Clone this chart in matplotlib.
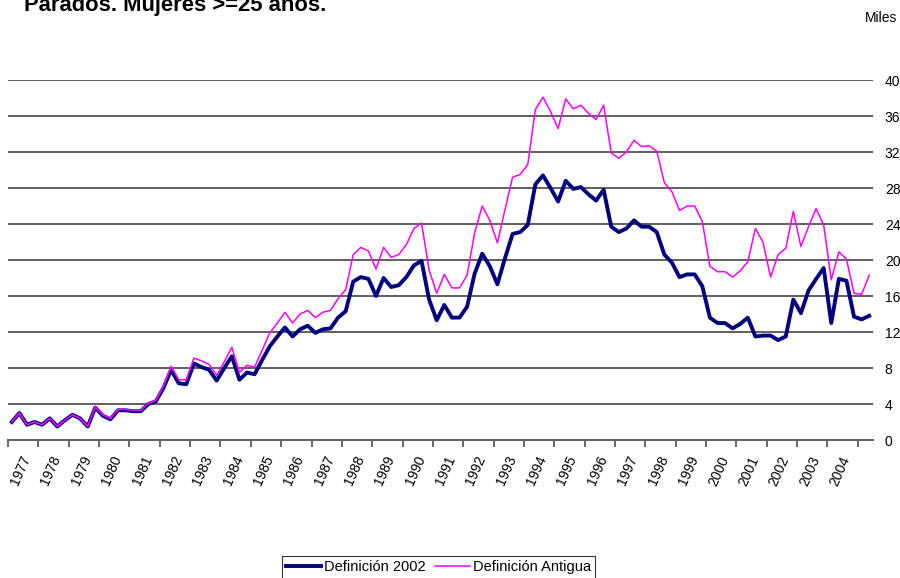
import numpy as np
import matplotlib
matplotlib.use('Agg')
import matplotlib.pyplot as plt

# quarterly series, 1977Q1 .. 2005Q2 (miles)
def2002 = [2.0, 3.0, 1.7, 2.0, 1.7, 2.4, 1.5, 2.2, 2.8, 2.4, 1.5, 3.6, 2.7, 2.3, 3.3, 3.3, 3.2, 3.2, 4.0, 4.3,
           5.8, 7.8, 6.3, 6.2, 8.5, 8.1, 7.8, 6.6,
           8.0, 9.3, 6.7, 7.5, 7.3, 8.9, 10.4, 11.5, 12.5, 11.5, 12.3, 12.7, 11.9, 12.3, 12.4, 13.6, 14.3,
           17.6, 18.1, 17.9, 16.0, 18.0, 17.0, 17.2, 18.1, 19.4, 19.9, 15.6, 13.3,
           15.0, 13.6, 13.6, 14.8, 18.5, 20.7, 19.3, 17.3, 20.2, 22.9, 23.1, 23.9, 28.4, 29.4, 28.0, 26.5,
           28.8, 27.9, 28.1, 27.3, 26.6, 27.8, 23.7, 23.1, 23.5, 24.4, 23.7, 23.7, 23.1,
           20.6, 19.7, 18.1, 18.4, 18.4, 17.1, 13.6, 13.0, 13.0, 12.4, 12.9, 13.6, 11.5, 11.6, 11.6, 11.1,
           11.5, 15.6, 14.1, 16.6, 17.9, 19.1, 13.0, 17.9, 17.7, 13.7, 13.4, 13.8]
antigua = [2.0, 3.0, 1.7, 2.0, 1.7, 2.4, 1.5, 2.2, 2.8, 2.4, 1.5, 3.7, 2.8, 2.4, 3.4, 3.4, 3.3, 3.3, 4.1, 4.4,
           6.0, 8.2, 6.7, 6.7, 9.1, 8.8, 8.4, 7.2,
           8.7, 10.3, 7.5, 8.3, 8.1, 10.0, 11.9, 13.0, 14.2, 13.0, 14.0, 14.4, 13.6, 14.2, 14.4, 15.7, 16.7,
           20.6, 21.4, 21.0, 19.0, 21.4, 20.3, 20.6, 21.7, 23.5, 24.1, 18.9, 16.3,
           18.4, 16.9, 16.9, 18.3, 23.0, 26.0, 24.4, 21.9, 25.6, 29.2, 29.5, 30.6, 36.7, 38.1, 36.5, 34.6,
           37.9, 36.8, 37.2, 36.3, 35.6, 37.2, 31.9, 31.3, 32.0, 33.3, 32.6, 32.7, 32.1,
           28.6, 27.6, 25.5, 26.0, 26.0, 24.3, 19.3, 18.7, 18.7, 18.1, 18.8, 19.8, 23.5, 22.0, 18.1, 20.6,
           21.3, 25.4, 21.5, 23.7, 25.7, 23.9, 17.8, 20.9, 20.1, 16.3, 16.2, 18.3]
years = [str(y) for y in range(1977, 2005)]
yticks = [0, 4, 8, 12, 16, 20, 24, 28, 32, 36, 40]

plt.rcParams['font.family'] = ['Liberation Sans', 'DejaVu Sans']

fig = plt.figure(figsize=(9, 5.78), dpi=100, facecolor='w')
ax = fig.add_axes([8/900, 1 - 440/578, 865/900, 360/578])

x = np.arange(len(def2002))
grid_c = '#5f5f5f'
for v in yticks[1:]:
    ax.axhline(v, color=grid_c, lw=1.4, zorder=1)

ax.plot(x, def2002, color='#000080', lw=2.8, zorder=3, label='Definición 2002')
ax.plot(x, antigua, color='#FF00FF', lw=1.1, zorder=4, label='Definición Antigua')

ax.set_xlim(-0.5, len(def2002) - 0.5)
ax.set_ylim(0, 40)

# y axis on the right, no tick marks
ax.yaxis.tick_right()
ax.set_yticks(yticks)
ax.tick_params(axis='y', length=0, pad=8.5, labelsize=10)

# year boundary ticks, labels centred in each year
ax.set_xticks(np.arange(len(years) + 1) * 4 - 0.5)
ax.set_xticklabels([])
ax.set_xticks(np.arange(len(years)) * 4 + 2.0, minor=True)
ax.set_xticklabels(years, minor=True, rotation=66, ha='right', va='center',
                   rotation_mode='anchor', fontsize=10)
ax.tick_params(axis='x', which='major', length=5, width=1.3, color=grid_c, direction='out')
ax.tick_params(axis='x', which='minor', length=0, pad=12)

for s in ['top', 'left', 'right']:
    ax.spines[s].set_visible(False)
ax.spines['bottom'].set_color(grid_c)
ax.spines['bottom'].set_linewidth(1.4)

fig.text(24/900, 1 - 11/578, 'Parados. Mujeres >=25 años.', fontsize=15.8,
         fontweight='bold', va='baseline', ha='left')
fig.text(897/900, 1 - 18/578, 'Miles', fontsize=10, va='center', ha='right')

leg = fig.legend(loc='upper left', bbox_to_anchor=(282/900, 1 - 556/578), ncol=2,
                 fontsize=10.5, frameon=True, fancybox=False, borderpad=0.3,
                 handlelength=2.4, handletextpad=0.2, columnspacing=0.6,
                 borderaxespad=0)
leg.get_frame().set_edgecolor('black')
leg.get_frame().set_linewidth(0.8)

fig.savefig('out.png', dpi=100, facecolor='w')
